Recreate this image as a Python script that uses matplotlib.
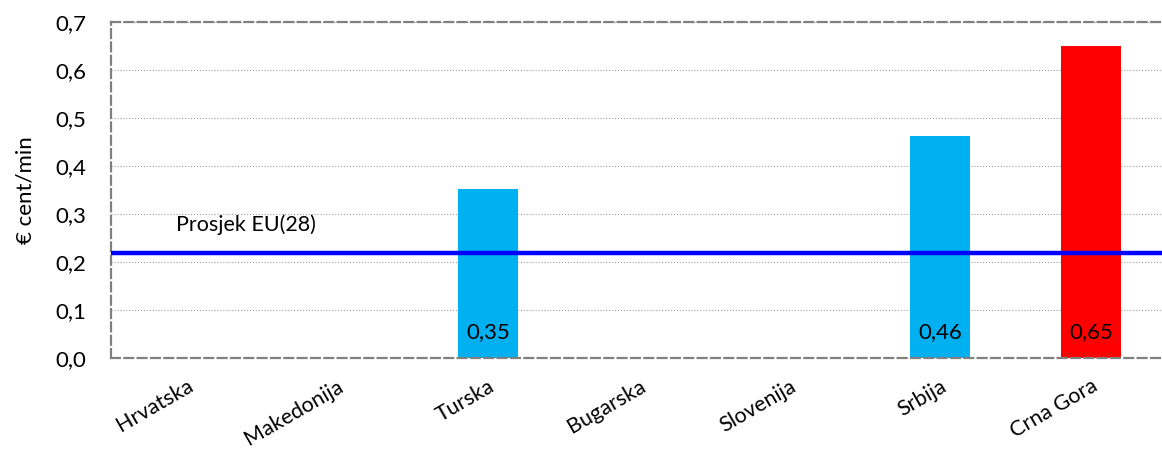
import matplotlib.pyplot as plt

countries = ["Hrvatska", "Makedonija", "Turska", "Bugarska", "Slovenija", "Srbija", "Crna Gora"]
values = [0.0, 0.0, 0.352, 0.0, 0.0, 0.463, 0.65]
value_labels = ["", "", "0,35", "", "", "0,46", "0,65"]
bar_colors = ["#00B0F0", "#00B0F0", "#00B0F0", "#00B0F0", "#00B0F0", "#00B0F0", "#FF0000"]
eu_avg = 0.219
y_ticks = [0.0, 0.1, 0.2, 0.3, 0.4, 0.5, 0.6, 0.7]
y_tick_labels = ["0,0", "0,1", "0,2", "0,3", "0,4", "0,5", "0,6", "0,7"]

plt.rcParams['font.family'] = ['Lato', 'DejaVu Sans']

fig = plt.figure(figsize=(11.62, 4.5), dpi=100)
ax = fig.add_axes([111 / 1162, 1 - 358 / 450, 1 - 111 / 1162, 336 / 450])

x = range(len(countries))
ax.bar(x, values, width=0.4, color=bar_colors, zorder=2)
for i, lab in enumerate(value_labels):
    if lab:
        ax.text(i, 0.053, lab, ha='center', va='center', fontsize=16, color='black', zorder=3)

ax.axhline(eu_avg, color='#0000FF', linewidth=3.2, zorder=4)
ax.text(-0.07, eu_avg + 0.058, "Prosjek EU(28)", fontsize=15.5, ha='left', va='center')

ax.set_xlim(-0.5, 6.47)
ax.set_ylim(0, 0.7)
ax.set_yticks(y_ticks)
ax.set_yticklabels(y_tick_labels, fontsize=16)
ax.set_xticks(list(x))
ax.set_xticklabels(countries, rotation=30, ha='right', rotation_mode='anchor', fontsize=15.5)
ax.tick_params(axis='both', length=0)
ax.tick_params(axis='y', pad=18)
ax.tick_params(axis='x', pad=13)
ax.set_ylabel("€ cent/min", fontsize=16, labelpad=14)

ax.grid(axis='y', linestyle=':', color='#A0A0A0', linewidth=0.8, zorder=0)
ax.set_axisbelow(True)
for side in ['left', 'top', 'bottom']:
    ax.spines[side].set_linestyle((0, (4, 2)))
    ax.spines[side].set_color('#808080')
    ax.spines[side].set_linewidth(1.6)
ax.spines['right'].set_visible(False)

fig.savefig("out.png", dpi=100)
